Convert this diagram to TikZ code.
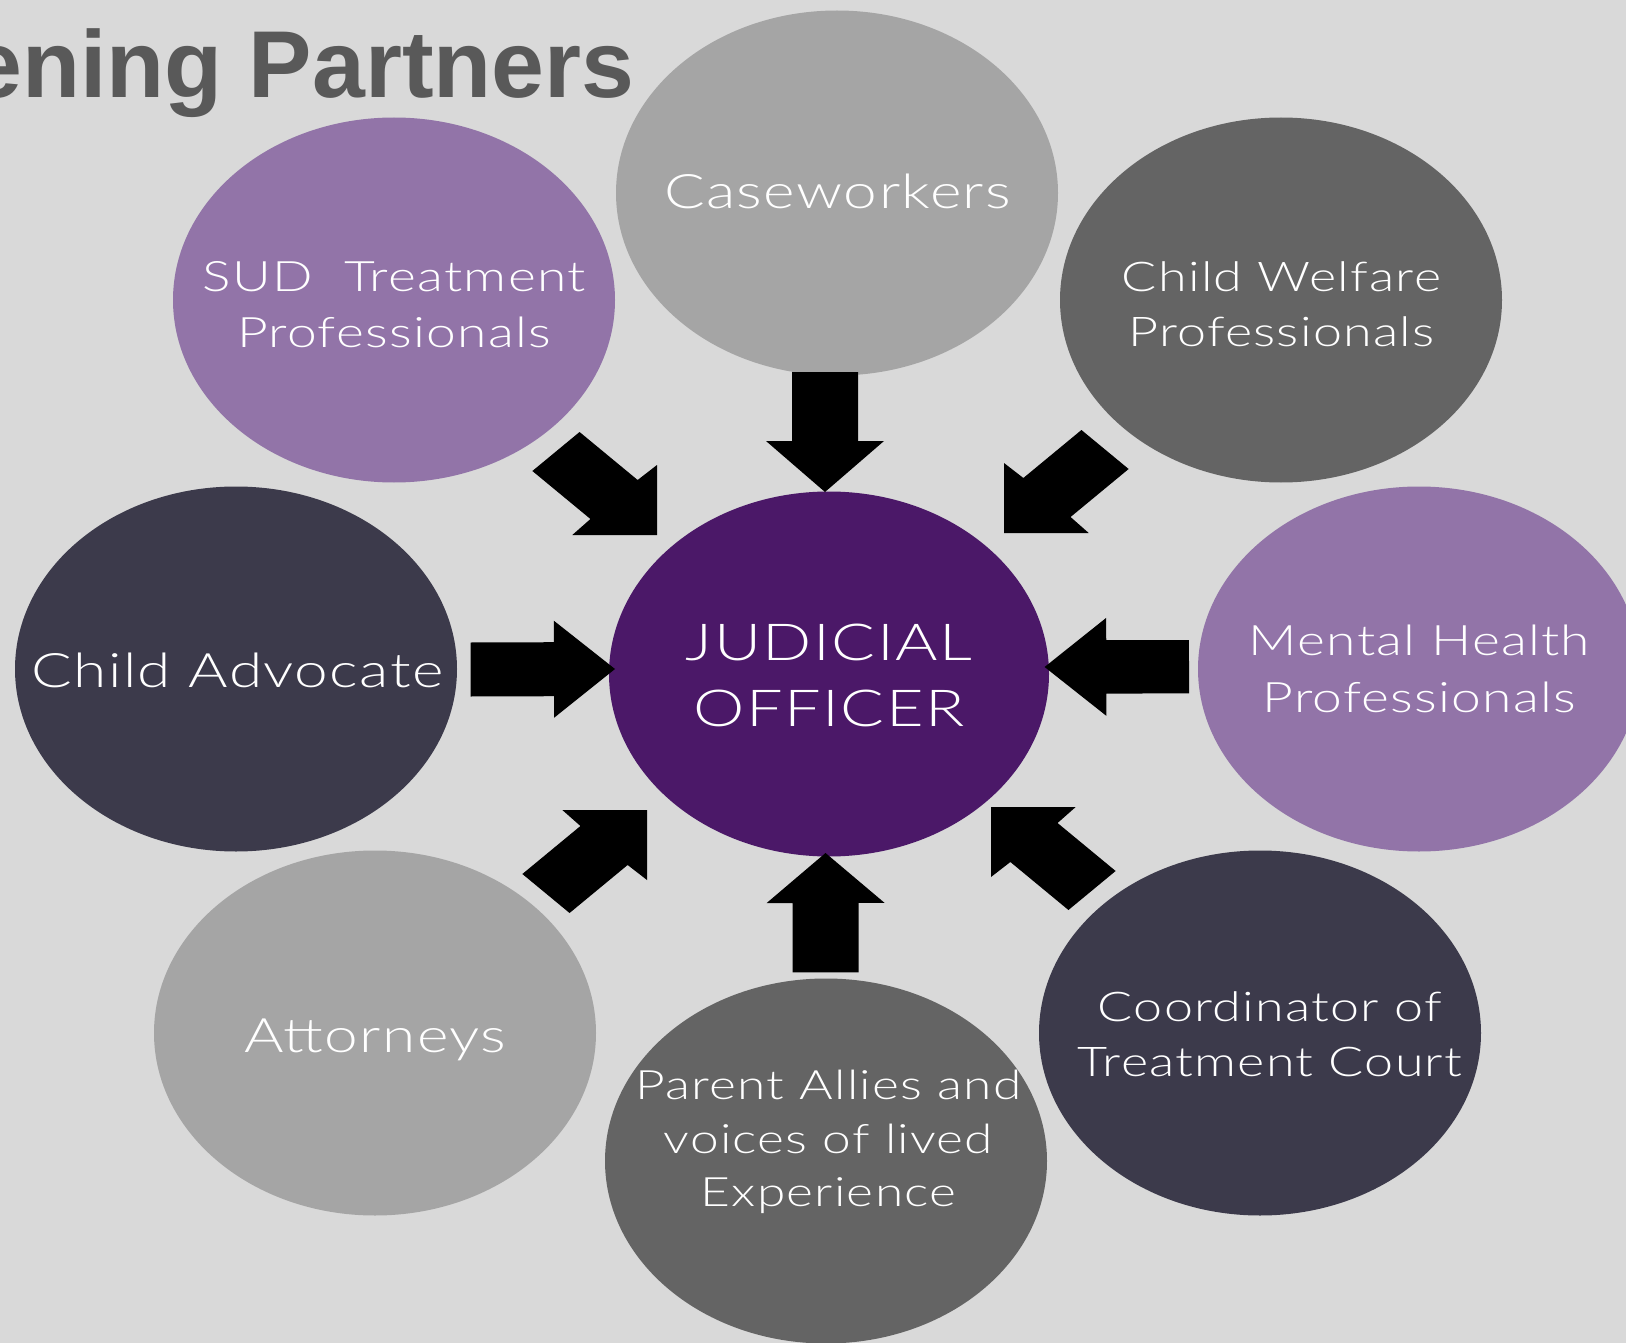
\documentclass[tikz,border=0pt]{standalone}
\usepackage{fontspec}
\usetikzlibrary{shapes.geometric,calc}
\IfFontExistsTF{Lato Light}
  {\newfontfamily\lblfont[FakeStretch=1.27,LetterSpace=3]{Lato Light}}
  {\newfontfamily\lblfont[FakeStretch=1.27,LetterSpace=3]{Lato}}
\newfontfamily\ttlfont{Liberation Sans}
\definecolor{bgc}{HTML}{D9D9D9}
\definecolor{lightgr}{HTML}{A5A5A5}
\definecolor{midgr}{HTML}{646464}
\definecolor{navyc}{HTML}{3C3A4B}
\definecolor{lilac}{HTML}{9274A8}
\definecolor{plum}{HTML}{4B1868}
\definecolor{ttlc}{HTML}{595959}
% straight block arrow: #1 tail, #2 tip, #3 half shaft width, #4 half head width, #5 head length
\newcommand{\blockarrow}[5]{%
  \coordinate (hb) at ($(#2)!#5!(#1)$);
  \fill[black] ($(#1)!#3!90:(#2)$) -- ($(hb)!#3!-90:(#1)$) -- ($(hb)!#4!-90:(#1)$)
    -- (#2) -- ($(hb)!#4!90:(#1)$) -- ($(hb)!#3!90:(#1)$) -- ($(#1)!#3!-90:(#2)$) -- cycle;
}
% diagonal block arrow (45 degree arrow stretched horizontally): #1 tip, #2 x sign, #3 y sign
\newcommand{\diagarrow}[3]{%
  \begin{scope}[shift={(#1)}, xscale=#2*1.21, yscale=#3]
    \fill[black] (0,0) -- (0,-70) -- (-16,-55) -- (-64,-103) -- (-103,-64) -- (-55,-16) -- (-70,0) -- cycle;
  \end{scope}
}
\begin{document}
\begin{tikzpicture}[x=1pt,y=-1pt,
  blob/.style={ellipse, minimum width=442pt, minimum height=365pt, inner sep=0pt},
  lab/.style={text=white, align=center, anchor=base, inner sep=0pt},
  single/.style={font=\lblfont\fontsize{47.5}{57}\selectfont}
]
\useasboundingbox (0,0) rectangle (1626,1343);
\fill[bgc] (0,0) rectangle (1626,1343);
\begin{scope}
\clip (0,0) rectangle (1626,1343);
\node[anchor=base west, inner sep=0pt, text=ttlc,
  font=\ttlfont\bfseries\fontsize{95}{110}\selectfont] (title) at (-31,97.3) {ening Partners};

\node[blob, fill=lightgr] (case) at (837,193) {};
\node[blob, fill=lilac] (sud) at (394,300) {};
\node[blob, fill=midgr] (cw) at (1281,300) {};
\node[blob, fill=navyc] (adv) at (236,669) {};
\node[blob, fill=plum, minimum width=440pt] (jud) at (829,674) {};
\node[blob, fill=lilac] (mh) at (1419,669) {};
\node[blob, fill=lightgr] (att) at (375,1033) {};
\node[blob, fill=midgr] (par) at (826,1161) {};
\node[blob, fill=navyc] (coord) at (1260,1033) {};

\node[lab, single] (caseL) at (837.5,209) {Caseworkers};
\node[lab, font=\lblfont\fontsize{42}{56}\selectfont] (sudL) at (394,347.7) {SUD\ \ Treatment\\Professionals};
\node[lab, font=\lblfont\fontsize{41}{55}\selectfont] (cwL) at (1281.5,346) {Child Welfare\\Professionals};
\node[lab, single] (advL) at (237.5,687) {Child Advocate};
\node[lab, font=\lblfont\fontsize{51}{66}\selectfont] (judL) at (829,726.7) {JUDICIAL\\OFFICER};
\node[lab, font=\lblfont\fontsize{42}{56.6}\selectfont] (mhL) at (1419.5,712.3) {Mental Health\\Professionals};
\node[lab, single] (attL) at (375.5,1052) {Attorneys};
\node[lab, font=\lblfont\fontsize{40.5}{53.7}\selectfont] (parL) at (828.5,1206.7) {Parent Allies and\\voices of lived\\Experience};
\node[lab, font=\lblfont\fontsize{41}{54.3}\selectfont] (coordL) at (1270,1076) {Coordinator of\\Treatment Court};

\coordinate (tT) at (825,372);    \coordinate (hT) at (825,492);
\coordinate (tB) at (825.7,972.3); \coordinate (hB) at (825.5,853);
\coordinate (tL) at (470.6,669.5); \coordinate (hL) at (615,669);
\coordinate (tR) at (1189,666.7);  \coordinate (hR) at (1044.6,667);
\coordinate (hTL) at (657,535);
\coordinate (hTR) at (1004,533);
\coordinate (hBL) at (647,810);
\coordinate (hBR) at (991,807);

\blockarrow{tT}{hT}{33pt}{59pt}{51pt}
\blockarrow{tB}{hB}{33pt}{59pt}{50pt}
\blockarrow{tL}{hL}{27pt}{48.5pt}{61pt}
\blockarrow{tR}{hR}{26.7pt}{49pt}{61.7pt}
\diagarrow{hTL}{1}{1}
\diagarrow{hTR}{-1}{1}
\diagarrow{hBL}{1}{-1}
\diagarrow{hBR}{-1}{-1}
\end{scope}
\end{tikzpicture}
\end{document}
